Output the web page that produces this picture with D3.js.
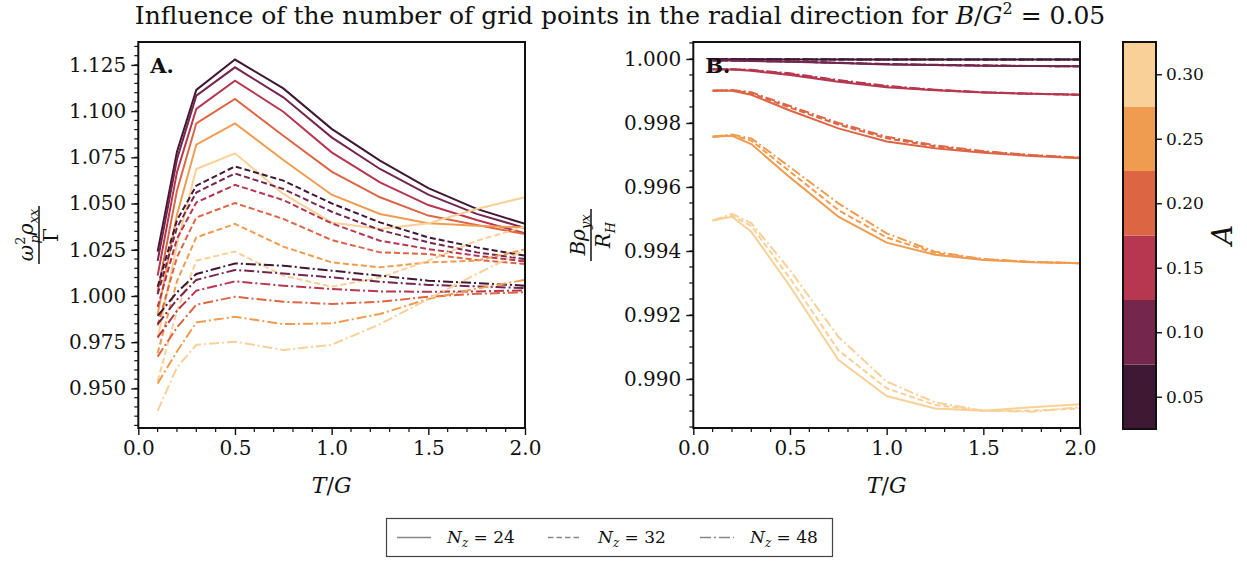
<!DOCTYPE html>
<html>
<head>
<meta charset="utf-8">
<script src="https://cdn.jsdelivr.net/npm/d3@7"></script>
<style>
  body { margin: 0; background: #fff; }
  text { font-family: "DejaVu Serif", "Liberation Serif", serif; fill: #111; }
</style>
</head>
<body>
<div id="chart"></div>
<script>
// Valeurs
const TG = [0.1, 0.2, 0.3, 0.5, 0.75, 1.0, 1.25, 1.5, 1.75, 2.0];
const A_LEVELS = [0.05, 0.10, 0.15, 0.20, 0.25, 0.30];
const A_COLORS = ["#3f1833", "#74264d", "#b6374f", "#dc6644", "#f09c50", "#f8d098"];

// panneau A : omega_p^2 rho_xx / Gamma
const RHOXX_NZ24 = [
  [1.024, 1.078, 1.1115, 1.1279, 1.1123, 1.0904, 1.0732, 1.0584, 1.0471, 1.0390],
  [1.019, 1.074, 1.1084, 1.1237, 1.1075, 1.0858, 1.0687, 1.0548, 1.0444, 1.0368],
  [1.011, 1.067, 1.1012, 1.1165, 1.0997, 1.0777, 1.0615, 1.0492, 1.0411, 1.0339],
  [1.002, 1.057, 1.0934, 1.1066, 1.0867, 1.0673, 1.0534, 1.0435, 1.0384, 1.0335],
  [0.990, 1.044, 1.0819, 1.0934, 1.0736, 1.0548, 1.0444, 1.0393, 1.0380, 1.0371],
  [0.977, 1.028, 1.0687, 1.0772, 1.0552, 1.0398, 1.0363, 1.0393, 1.0471, 1.0534]
];
const RHOXX_NZ32 = [
  [1.005, 1.041, 1.0597, 1.0701, 1.0624, 1.0501, 1.0398, 1.0317, 1.0263, 1.0218],
  [1.001, 1.037, 1.0560, 1.0663, 1.0579, 1.0456, 1.0357, 1.0290, 1.0236, 1.0200],
  [0.994, 1.031, 1.0506, 1.0601, 1.0519, 1.0393, 1.0299, 1.0254, 1.0218, 1.0187],
  [0.984, 1.021, 1.0425, 1.0503, 1.0417, 1.0303, 1.0236, 1.0227, 1.0195, 1.0173],
  [0.969, 1.008, 1.0317, 1.0390, 1.0267, 1.0182, 1.0155, 1.0182, 1.0191, 1.0252],
  [0.954, 0.992, 1.0191, 1.0241, 1.0110, 1.0050, 1.0100, 1.0191, 1.0299, 1.0375]
];
const RHOXX_NZ48 = [
  [0.9893, 1.002, 1.0119, 1.0176, 1.0164, 1.0137, 1.0110, 1.0083, 1.0070, 1.0056],
  [0.9848, 0.998, 1.0087, 1.0141, 1.0122, 1.0101, 1.0077, 1.0060, 1.0052, 1.0043],
  [0.9776, 0.992, 1.0029, 1.0079, 1.0056, 1.0038, 1.0025, 1.0023, 1.0025, 1.0030],
  [0.9672, 0.983, 0.9953, 0.9996, 0.9969, 0.9957, 0.9969, 0.9996, 1.0012, 1.0020],
  [0.9527, 0.970, 0.9857, 0.9888, 0.9848, 0.9852, 0.9903, 0.9984, 1.0040, 1.0087],
  [0.9379, 0.9614, 0.9736, 0.9753, 0.9708, 0.9736, 0.9848, 0.9984, 1.0119, 1.0249]
];

// panneau B : B rho_yx / R_H
const RHOYX_NZ24 = [
  [0.99999, 0.99999, 0.99999, 0.99998, 0.99998, 0.99998, 0.99998, 0.99998, 0.99998, 0.99998],
  [0.99995, 0.99995, 0.99994, 0.99991, 0.99987, 0.99983, 0.99981, 0.99979, 0.99978, 0.99977],
  [0.99968, 0.99967, 0.99963, 0.99950, 0.99929, 0.99912, 0.99902, 0.99895, 0.99891, 0.99888],
  [0.99901, 0.99901, 0.99888, 0.99839, 0.99783, 0.99742, 0.99721, 0.99707, 0.99697, 0.99690],
  [0.99757, 0.99760, 0.99734, 0.99630, 0.99507, 0.99426, 0.99388, 0.99372, 0.99365, 0.99362],
  [0.99495, 0.99507, 0.99460, 0.99290, 0.99060, 0.98947, 0.98908, 0.98901, 0.98912, 0.98921]
];
const RHOYX_NZ32 = [
  [0.99999, 0.99999, 0.99999, 0.99999, 0.99998, 0.99998, 0.99998, 0.99998, 0.99998, 0.99998],
  [0.99995, 0.99995, 0.99994, 0.99992, 0.99988, 0.99984, 0.99981, 0.99979, 0.99978, 0.99977],
  [0.99968, 0.99968, 0.99965, 0.99953, 0.99932, 0.99914, 0.99903, 0.99896, 0.99891, 0.99888],
  [0.99901, 0.99902, 0.99893, 0.99848, 0.99795, 0.99752, 0.99727, 0.99710, 0.99699, 0.99691],
  [0.99757, 0.99762, 0.99745, 0.99648, 0.99528, 0.99442, 0.99394, 0.99374, 0.99366, 0.99362],
  [0.99495, 0.99511, 0.99478, 0.99315, 0.99090, 0.98971, 0.98919, 0.98901, 0.98901, 0.98908]
];
const RHOYX_NZ48 = [
  [0.99999, 0.99999, 0.99999, 0.99999, 0.99999, 0.99998, 0.99998, 0.99998, 0.99998, 0.99998],
  [0.99995, 0.99995, 0.99994, 0.99992, 0.99988, 0.99984, 0.99982, 0.99980, 0.99978, 0.99977],
  [0.99968, 0.99968, 0.99966, 0.99955, 0.99934, 0.99916, 0.99904, 0.99896, 0.99892, 0.99888],
  [0.99901, 0.99903, 0.99896, 0.99853, 0.99800, 0.99757, 0.99730, 0.99712, 0.99700, 0.99692],
  [0.99757, 0.99764, 0.99752, 0.99662, 0.99549, 0.99455, 0.99398, 0.99375, 0.99366, 0.99362],
  [0.99495, 0.99516, 0.99487, 0.99340, 0.99132, 0.98992, 0.98927, 0.98901, 0.98898, 0.98912]
];

const NZ_LABELS = ["24", "32", "48"];
const DASHES = [null, "6,3", "10,3,2,3"];
const LEG_DASHES = [null, "5.5,3", "11,3,2,3"];
const X_TICKS = [0.0, 0.5, 1.0, 1.5, 2.0];
const YA_TICKS = [0.950, 0.975, 1.000, 1.025, 1.050, 1.075, 1.100, 1.125];
const YB_TICKS = [0.990, 0.992, 0.994, 0.996, 0.998, 1.000];
const CB_TICKS = [0.05, 0.10, 0.15, 0.20, 0.25, 0.30];

const W = 1247, H = 561;
const svg = d3.select("#chart").append("svg").attr("width", W).attr("height", H);

// Titre
const title = svg.append("text").attr("x", 620).attr("y", 24)
  .attr("text-anchor", "middle").style("font-size", "25px");
title.append("tspan").text("Influence of the number of grid points in the radial direction for ");
title.append("tspan").style("font-style", "italic").text("B");
title.append("tspan").text("/");
title.append("tspan").style("font-style", "italic").text("G");
title.append("tspan").attr("dy", -10).style("font-size", "16px").text("2");
title.append("tspan").attr("dy", 10).text(" = 0.05");

/* Dessine un panneau avec ses axes et ses courbes */
function panneau(x0, x1, yDomain, yTicks, yFmt, yMinorStep, series, label) {
  const top = 42, bottom = 428;
  const x = d3.scaleLinear().domain([0, 2]).range([x0, x1]);
  const y = d3.scaleLinear().domain(yDomain).range([bottom, top]);
  const g = svg.append("g");

  const clipId = "clip" + label;
  svg.append("clipPath").attr("id", clipId).append("rect")
    .attr("x", x0).attr("y", top).attr("width", x1 - x0).attr("height", bottom - top);

  const line = d3.line().x((d, i) => x(TG[i])).y(d => y(d));
  const courbes = g.append("g").attr("clip-path", "url(#" + clipId + ")");
  series.forEach((fam, k) => {
    fam.forEach((vals, i) => {
      courbes.append("path")
        .attr("d", line(vals))
        .attr("fill", "none")
        .attr("stroke", A_COLORS[i])
        .attr("stroke-width", 2)
        .attr("stroke-dasharray", DASHES[k]);
    });
  });

  // axe x
  const ax = d3.axisBottom(x).tickValues(X_TICKS).tickFormat(d3.format(".1f")).tickSize(7).tickPadding(6);
  const gx = g.append("g").attr("transform", `translate(0,${bottom})`).call(ax);
  const minorX = d3.range(0, 2.0001, 0.1).filter(v => Math.abs(v * 2 - Math.round(v * 2)) > 1e-6);
  gx.selectAll(".minor").data(minorX).enter().append("line")
    .attr("x1", d => x(d)).attr("x2", d => x(d)).attr("y1", 0).attr("y2", 4)
    .attr("stroke", "#111").attr("stroke-width", 1.2);

  // axe y
  const ay = d3.axisLeft(y).tickValues(yTicks).tickFormat(yFmt).tickSize(7).tickPadding(5);
  const gy = g.append("g").attr("transform", `translate(${x0},0)`).call(ay);
  const minorY = d3.range(Math.ceil(yDomain[0] / yMinorStep), Math.floor(yDomain[1] / yMinorStep) + 1)
    .map(k => k * yMinorStep);
  gy.selectAll(".minor").data(minorY).enter().append("line")
    .attr("x1", -4).attr("x2", 0).attr("y1", d => y(d)).attr("y2", d => y(d))
    .attr("stroke", "#111").attr("stroke-width", 1.2);

  [gx, gy].forEach(a => {
    a.select(".domain").remove();
    a.selectAll(".tick line").attr("stroke", "#111").attr("stroke-width", 1.4);
    a.selectAll(".tick text").style("font-size", "20px").attr("fill", "#111")
      .style("font-family", "'DejaVu Serif', serif");
  });

  // cadre
  g.append("rect").attr("x", x0).attr("y", top).attr("width", x1 - x0).attr("height", bottom - top)
    .attr("fill", "none").attr("stroke", "#111").attr("stroke-width", 2);

  // étiquette de panneau
  g.append("text").attr("x", x0 + 12).attr("y", top + 31).style("font-size", "21px")
    .style("font-weight", "bold").text(label + ".");

  // titre axe x
  const tx = g.append("text").attr("x", (x0 + x1) / 2).attr("y", 493)
    .attr("text-anchor", "middle").style("font-size", "22px");
  tx.append("tspan").style("font-style", "italic").text("T");
  tx.append("tspan").text("/");
  tx.append("tspan").style("font-style", "italic").text("G");

  return { x, y };
}

panneau(138.3, 525, [0.9286, 1.1374], YA_TICKS, d3.format(".3f"), 0.005,
  [RHOXX_NZ24, RHOXX_NZ32, RHOXX_NZ48], "A");
panneau(693.3, 1080, [0.98847, 1.00053], YB_TICKS, d3.format(".3f"), 0.0005,
  [RHOYX_NZ24, RHOYX_NZ32, RHOYX_NZ48], "B");

// Étiquettes y en fraction
function fraction(cx, cy, larg, num, den) {
  const g = svg.append("g").attr("transform", `translate(${cx},${cy}) rotate(-90)`);
  g.append("line").attr("x1", -larg / 2).attr("x2", larg / 2).attr("y1", 0).attr("y2", 0)
    .attr("stroke", "#111").attr("stroke-width", 1.5);
  const n = g.append("text").attr("x", 0).attr("y", -6).attr("text-anchor", "middle").style("font-size", "20px");
  num(n);
  const d = g.append("text").attr("x", 0).attr("y", 19).attr("text-anchor", "middle").style("font-size", "20px");
  den(d);
}

fraction(39, 235, 58, t => {
  t.append("tspan").style("font-style", "italic").text("ω");
  t.append("tspan").attr("dy", -8).style("font-size", "13px").text("2");
  t.append("tspan").attr("dx", -7).attr("dy", 14).style("font-size", "13px").style("font-style", "italic").text("p");
  t.append("tspan").attr("dy", -6).style("font-style", "italic").text("ρ");
  t.append("tspan").attr("dy", 5).style("font-size", "13px").style("font-style", "italic").text("xx");
}, t => {
  t.append("tspan").text("Γ");
});

fraction(591, 235, 52, t => {
  t.append("tspan").style("font-style", "italic").text("B");
  t.append("tspan").style("font-style", "italic").text("ρ");
  t.append("tspan").attr("dy", 5).style("font-size", "13px").style("font-style", "italic").text("yx");
}, t => {
  t.append("tspan").style("font-style", "italic").text("R");
  t.append("tspan").attr("dy", 5).style("font-size", "13px").style("font-style", "italic").text("H");
});

// Barre de couleurs
const cbx = 1123, cbw = 33;
const cy = d3.scaleLinear().domain([0.025, 0.325]).range([429, 42]);
const cb = svg.append("g");
cb.selectAll("rect.niveau").data(A_LEVELS).enter().append("rect")
  .attr("x", cbx).attr("width", cbw)
  .attr("y", d => cy(d + 0.025)).attr("height", d => cy(d - 0.025) - cy(d + 0.025))
  .attr("fill", (d, i) => A_COLORS[i]);
cb.append("rect").attr("x", cbx).attr("y", 42).attr("width", cbw).attr("height", 387)
  .attr("fill", "none").attr("stroke", "#111").attr("stroke-width", 2);
const acb = cb.append("g").attr("transform", `translate(${cbx + cbw},0)`)
  .call(d3.axisRight(cy).tickValues(CB_TICKS).tickFormat(d3.format(".2f")).tickSize(6).tickPadding(4));
acb.select(".domain").remove();
acb.selectAll(".tick line").attr("stroke", "#111").attr("stroke-width", 1.4);
acb.selectAll(".tick text").style("font-size", "17px").attr("fill", "#111")
  .style("font-family", "'DejaVu Serif', serif");
svg.append("text").attr("transform", "translate(1232,235) rotate(-90)")
  .attr("text-anchor", "middle").style("font-size", "28px").style("font-style", "italic").text("A");

// Légende
const leg = svg.append("g");
leg.append("rect").attr("x", 386.5).attr("y", 518.5).attr("width", 446).attr("height", 38)
  .attr("fill", "#fff").attr("stroke", "#444").attr("stroke-width", 1.2);
const LEG_X = [397, 548, 700];
NZ_LABELS.forEach((nz, k) => {
  leg.append("line").attr("x1", LEG_X[k]).attr("x2", LEG_X[k] + 34).attr("y1", 537.5).attr("y2", 537.5)
    .attr("stroke", "#888").attr("stroke-width", 1.6).attr("stroke-dasharray", LEG_DASHES[k]);
  const t = leg.append("text").attr("x", LEG_X[k] + 50).attr("y", 543).style("font-size", "17px").attr("fill", "#222");
  t.append("tspan").style("font-style", "italic").text("N");
  t.append("tspan").attr("dy", 4).style("font-size", "12px").style("font-style", "italic").text("z");
  t.append("tspan").attr("dy", -4).text(" = " + nz);
});
</script>
</body>
</html>
